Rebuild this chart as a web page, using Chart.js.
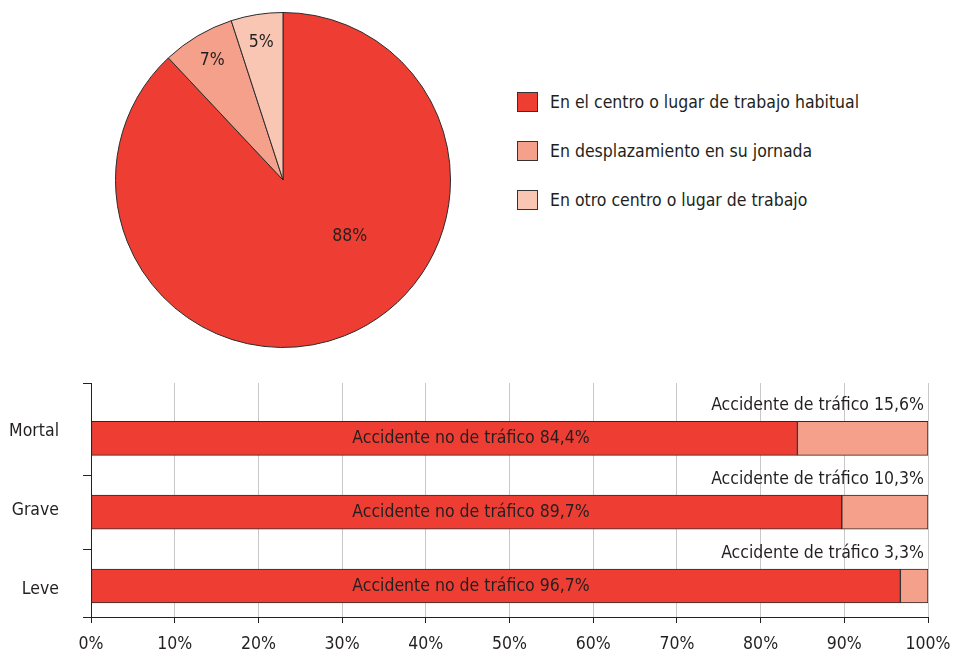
<!DOCTYPE html>
<html>
<head>
<meta charset="utf-8">
<script src="https://cdn.jsdelivr.net/npm/chart.js@4"></script>
<style>
  body { margin: 0; background: #fff; font-family: 'DejaVu Sans Condensed', sans-serif; color: #231f20; }
  #pagina { position: relative; width: 954px; height: 656px; overflow: hidden; }
  #caja-tarta { position: absolute; left: 115px; top: 12px; width: 336px; height: 336px; }
  #caja-barras { position: absolute; left: 0; top: 360px; width: 954px; height: 296px; }
  #leyenda { position: absolute; left: 517px; top: 89px; }
  .item { position: relative; height: 49px; font-size: 17.5px; line-height: 26px; white-space: nowrap; }
  .item span.cuadro { position: absolute; left: 0; top: 3px; width: 21px; height: 20px; box-sizing: border-box; border: 1px solid #333; }
  .item span.texto { position: absolute; left: 33px; top: 0; }
</style>
</head>
<body>
<div id="pagina">
  <div id="caja-tarta"><canvas id="tarta" width="336" height="336"></canvas></div>
  <div id="leyenda"></div>
  <div id="caja-barras"><canvas id="barras" width="954" height="296"></canvas></div>
</div>
<script>
// datos de la tarta
const lugares = ['En el centro o lugar de trabajo habitual', 'En desplazamiento en su jornada', 'En otro centro o lugar de trabajo'];
const porcentajeLugar = [88, 7, 5];
const colores = ['#EE3E34', '#F5A08A', '#FAC6B4'];

// datos de las barras
const gravedad = ['Mortal', 'Grave', 'Leve'];
const noTrafico = [84.4, 89.7, 96.7];
const trafico = [15.6, 10.3, 3.3];
const ticksX = [0, 10, 20, 30, 40, 50, 60, 70, 80, 90, 100];

const FUENTE = "'DejaVu Sans Condensed', sans-serif";
const TAM = 17.5;
const TINTA = '#231f20';
Chart.defaults.font.family = FUENTE;
Chart.defaults.font.size = TAM;
Chart.defaults.color = TINTA;

function coma(v) {
    return v.toFixed(1).replace('.', ',');
}

// leyenda en html
const leyenda = document.getElementById('leyenda');
lugares.forEach((texto, i) => {
    const item = document.createElement('div');
    item.className = 'item';
    item.innerHTML = `<span class="cuadro" style="background:${colores[i]}"></span><span class="texto">${texto}</span>`;
    leyenda.appendChild(item);
});

const etiquetasTarta = {
    id: 'etiquetasTarta',
    afterDatasetsDraw(chart) {
        const ctx = chart.ctx;
        ctx.save();
        ctx.font = TAM + 'px ' + FUENTE;
        ctx.fillStyle = TINTA;
        ctx.textAlign = 'center';
        ctx.textBaseline = 'middle';
        chart.getDatasetMeta(0).data.forEach((arco, i) => {
            let ang = (arco.startAngle + arco.endAngle) / 2;
            let dist = arco.outerRadius * 0.83;
            if (i === 0) {
                // la etiqueta grande va abajo a la derecha
                ang = 40 * Math.PI / 180;
                dist = arco.outerRadius * 0.52;
            }
            ctx.fillText(porcentajeLugar[i] + '%', arco.x + Math.cos(ang) * dist, arco.y + Math.sin(ang) * dist);
        });
        ctx.restore();
    }
};

new Chart(document.getElementById('tarta'), {
    type: 'pie',
    data: {
        labels: lugares,
        datasets: [{
            data: porcentajeLugar,
            backgroundColor: colores,
            borderColor: '#2b2b2b',
            borderWidth: 1
        }]
    },
    options: {
        responsive: false,
        animation: false,
        plugins: { legend: { display: false }, tooltip: { enabled: false } }
    },
    plugins: [etiquetasTarta]
});

const etiquetasBarras = {
    id: 'etiquetasBarras',
    afterDatasetsDraw(chart) {
        const ctx = chart.ctx;
        const x = chart.scales.x;
        ctx.save();
        ctx.font = TAM + 'px ' + FUENTE;
        ctx.fillStyle = TINTA;
        ctx.textBaseline = 'middle';
        const dentro = chart.getDatasetMeta(0).data;
        const fuera = chart.getDatasetMeta(1).data;
        dentro.forEach((barra, i) => {
            ctx.textAlign = 'center';
            ctx.fillText('Accidente no de tráfico ' + coma(noTrafico[i]) + '%', x.getPixelForValue(45.4), barra.y);
            const otra = fuera[i];
            ctx.textAlign = 'right';
            ctx.fillText('Accidente de tráfico ' + coma(trafico[i]) + '%', otra.x - 4, otra.y - otra.height / 2 - 16);
        });
        ctx.restore();
    }
};

const Y_MIN = -0.75, Y_MAX = 2.42;

new Chart(document.getElementById('barras'), {
    type: 'bar',
    data: {
        datasets: [{
            label: 'Accidente no de tráfico',
            data: noTrafico.map((v, i) => ({ x: v, y: i })),
            backgroundColor: colores[0],
            borderColor: '#2b2b2b',
            borderWidth: 1,
            borderSkipped: false,
            barThickness: 34
        }, {
            label: 'Accidente de tráfico',
            data: trafico.map((v, i) => ({ x: v, y: i })),
            backgroundColor: colores[1],
            borderColor: '#2b2b2b',
            borderWidth: 1,
            borderSkipped: false,
            barThickness: 34
        }]
    },
    options: {
        indexAxis: 'y',
        responsive: false,
        animation: false,
        layout: { padding: { top: 23, right: 26, left: 0, bottom: 0 } },
        plugins: { legend: { display: false }, tooltip: { enabled: false } },
        scales: {
            x: {
                type: 'linear',
                stacked: true,
                min: 0,
                max: 100,
                afterBuildTicks: s => { s.ticks = ticksX.map(v => ({ value: v })); },
                afterFit: s => { s.height = 39; s.paddingRight = 20; s.paddingLeft = 20; },
                ticks: { callback: v => v + '%', padding: 11, maxRotation: 0 },
                grid: {
                    color: c => (c.tick && c.tick.value === 0) ? 'rgba(0,0,0,0)' : '#c8c8c8',
                    tickColor: '#222',
                    tickLength: 6
                },
                border: { color: '#222', width: 1 }
            },
            y: {
                type: 'linear',
                stacked: true,
                reverse: true,
                offset: false,
                min: Y_MIN,
                max: Y_MAX,
                position: 'left',
                weight: 0,
                afterBuildTicks: s => { s.ticks = [Y_MIN, 0.5, 1.5, Y_MAX].map(v => ({ value: v })); },
                afterFit: s => { s.width = 32; },
                ticks: { display: false },
                grid: { offset: false, drawOnChartArea: false, tickLength: 8, tickColor: '#222', color: '#222' },
                border: { color: '#222', width: 1 }
            },
            etiquetas: {
                type: 'linear',
                reverse: true,
                offset: false,
                min: -0.61,
                max: 2.35,
                position: 'left',
                weight: 1,
                afterBuildTicks: s => { s.ticks = [0, 1, 2].map(v => ({ value: v })); },
                afterFit: s => { s.width = 59; },
                ticks: { callback: v => gravedad[v], padding: 0 },
                grid: { offset: false, display: false, drawTicks: false },
                border: { display: false }
            }
        }
    },
    plugins: [etiquetasBarras]
});
</script>
</body>
</html>
